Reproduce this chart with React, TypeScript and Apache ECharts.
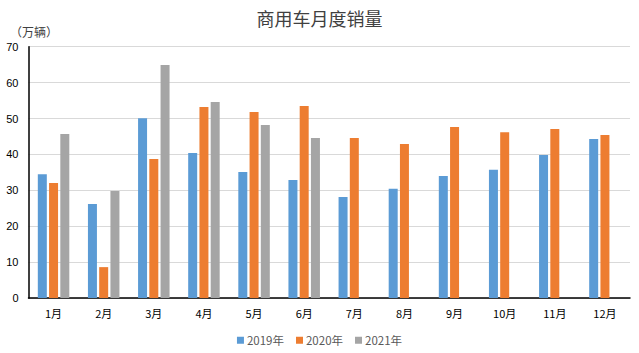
import React, { useEffect, useRef } from "react";
import * as echarts from "echarts";

const months = ["1月", "2月", "3月", "4月", "5月", "6月", "7月", "8月", "9月", "10月", "11月", "12月"];
const s2019 = [34.5, 26.2, 50.1, 40.4, 35.1, 32.9, 28.1, 30.4, 34.0, 35.7, 39.8, 44.3];
const s2020 = [32.0, 8.6, 38.7, 53.2, 51.8, 53.5, 44.6, 42.9, 47.6, 46.2, 47.1, 45.4];
const s2021 = [45.7, 29.8, 64.9, 54.6, 48.2, 44.6, null, null, null, null, null, null];
const seriesNames = ["2019年", "2020年", "2021年"];
const colors = ["#5B9BD5", "#ED7D31", "#A5A5A5"];

const FONT = "'Noto Sans CJK SC', 'Noto Sans', sans-serif";

export default function App() {
  const ref = useRef<HTMLDivElement>(null);
  useEffect(() => {
    if (!ref.current) return;
    const chart = echarts.init(ref.current, undefined, { renderer: "svg" });
    const data = [s2019, s2020, s2021];
    chart.setOption({
      animation: false,
      textStyle: { fontFamily: FONT },
      title: {
        text: "商用车月度销量",
        left: "center",
        top: 4,
        textStyle: { fontSize: 18, fontWeight: "normal", color: "#404040", fontFamily: FONT },
      },
      graphic: [
        {
          type: "text",
          left: 10,
          top: 25,
          style: { text: "（万辆）", fontSize: 12, fill: "#404040", fontFamily: FONT },
        },
      ],
      legend: {
        bottom: 2,
        left: "center",
        itemWidth: 7,
        itemHeight: 7,
        itemGap: 12,
        icon: "rect",
        textStyle: { fontSize: 11.5, color: "#595959", fontFamily: FONT, padding: [0, 0, 0, -2] },
        data: seriesNames,
      },
      grid: { left: 28.5, right: 9, top: 46.7, bottom: 55, containLabel: false },
      xAxis: {
        type: "category",
        data: months,
        axisLine: { lineStyle: { color: "#000", width: 1.5 } },
        axisTick: { show: false },
        axisLabel: { fontSize: 11, color: "#000", margin: 9, fontFamily: FONT },
      },
      yAxis: {
        type: "value",
        min: 0,
        max: 70,
        interval: 10,
        axisLine: { show: true, lineStyle: { color: "#000", width: 1.5 } },
        axisTick: { show: false },
        splitLine: { lineStyle: { color: "#D9D9D9" } },
        axisLabel: { fontSize: 11, color: "#000", margin: 10, fontFamily: "'Liberation Sans', Arial, sans-serif" },
      },
      series: seriesNames.map((n, i) => ({
        name: n,
        type: "bar",
        data: data[i],
        barWidth: 9,
        barGap: "25%",
        itemStyle: { color: colors[i] },
      })),
    });
    return () => chart.dispose();
  }, []);
  return (
    <div style={{ position: "fixed", left: 0, top: 0, width: 639, height: 353, background: "#fff" }}>
      <div ref={ref} style={{ width: 639, height: 353 }} />
    </div>
  );
}
